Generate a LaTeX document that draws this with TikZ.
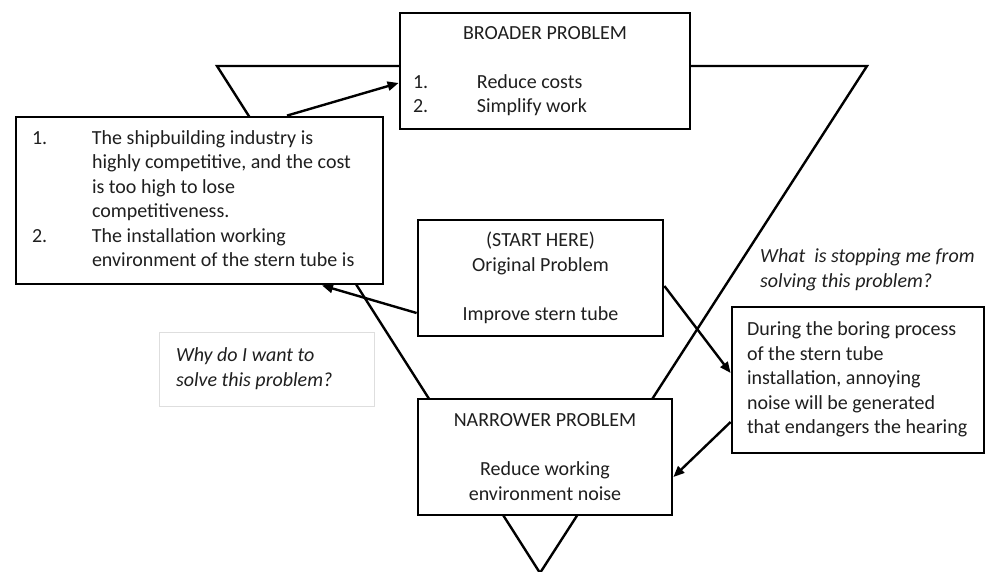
\documentclass[tikz,border=0pt]{standalone}
\usepackage{fontspec}
\setmainfont{Carlito}
\usetikzlibrary{arrows.meta,calc}
\begin{document}
\begin{tikzpicture}[x=1pt,y=-1pt,
  txt/.style={font=\fontsize{20}{24.5}\selectfont, text=black!88},
  box/.style={txt, draw=black, line width=2.8pt, fill=white, rectangle, inner sep=0pt},
  qbox/.style={txt, draw=black!13, line width=0.8pt, fill=white, rectangle, inner sep=0pt},
  conn/.style={line width=2.4pt, -{Triangle[length=11pt,width=9pt]}},
  funnel/.style={line width=2.4pt, line join=miter}]
\useasboundingbox (0,0) rectangle (989,571);
% funnel triangle
\coordinate (tl) at (217,66);
\coordinate (tr) at (867,66);
\coordinate (ap) at (540,573);
\draw[funnel] (tl) -- (tr) -- (ap) -- cycle;
% boxes
\node[box, minimum width=290pt, minimum height=116pt] (broad) at (545,71)
  {\begin{tabular}{@{}p{64pt}@{}p{200pt}@{}}
   \multicolumn{2}{@{}c@{}}{BROADER PROBLEM\hspace{20pt}}\\
   \\
   1. & Reduce costs\\
   2. & Simplify work
   \end{tabular}};
\node[box, minimum width=367pt, minimum height=167pt] (left) at (199.5,200.5)
  {\begin{tabular}{@{}p{60pt}@{}p{275pt}@{}}
   1. & The shipbuilding industry is\\
      & highly competitive, and the cost\\
      & is too high to lose\\
      & competitiveness.\\
   2. & The installation working\\
      & environment of the stern tube is
   \end{tabular}};
\node[box, minimum width=245pt, minimum height=116pt, align=center] (start) at (540.5,278)
  {(START HERE)\\Original Problem\\[24.5pt]Improve stern tube};
\node[box, minimum width=254pt, minimum height=116pt, align=center] (narrow) at (545,457)
  {NARROWER PROBLEM\\[24.5pt]Reduce working\\environment noise};
\node[box, minimum width=252pt, minimum height=146pt] (right) at (858,380)
  {\begin{tabular}{@{}p{222pt}@{}}
   During the boring process\\
   of the stern tube\\
   installation, annoying\\
   noise will be generated\\
   that endangers the hearing
   \end{tabular}};
\node[qbox, minimum width=215pt, minimum height=74pt, font=\fontsize{20}{24.5}\selectfont\itshape] (why) at (266.5,369)
  {\begin{tabular}{@{}p{181pt}@{}}
   Why do I want to\\
   solve this problem?
   \end{tabular}};
\node[txt, anchor=west, inner sep=0pt, font=\fontsize{20}{24.5}\selectfont\itshape] (what) at (760,270)
  {\begin{tabular}{@{}l@{}}
   What\ \ is stopping me from\\
   solving this problem?
   \end{tabular}};
% connectors
\draw[conn] ([xshift=87.5pt]left.north) -- ([yshift=-12pt]broad.west);
\draw[conn] ([yshift=-35pt]start.west) -- ([xshift=122.5pt]left.south);
\draw[conn] ([yshift=-8pt]start.east) -- ([yshift=7pt]right.west);
\draw[conn] ([yshift=-42pt]right.west) -- ([yshift=-20pt]narrow.east);
\end{tikzpicture}
\end{document}
